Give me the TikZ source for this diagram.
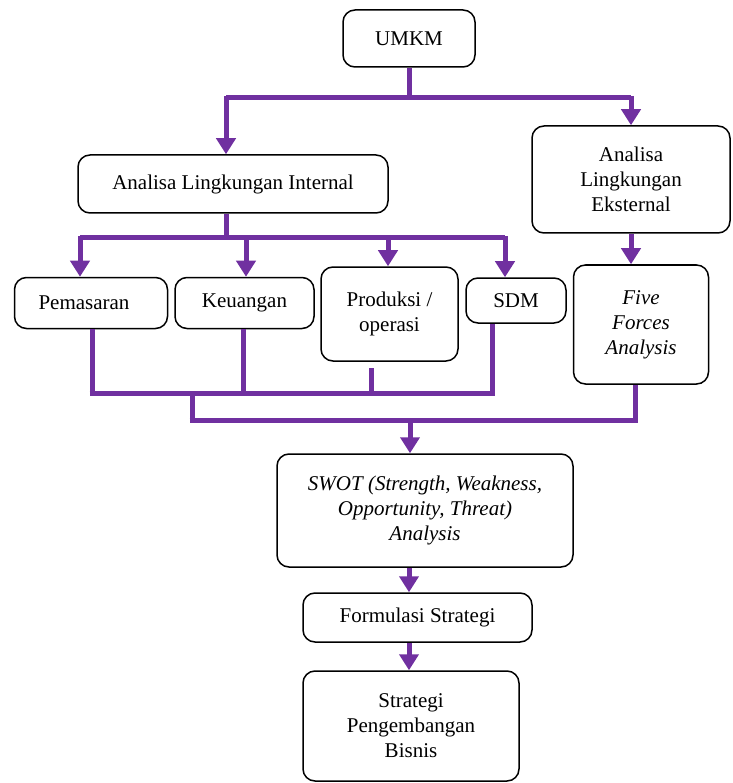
\documentclass[tikz,border=0pt]{standalone}
\usepackage{fontspec}
\setmainfont{Liberation Serif}
\usetikzlibrary{arrows.meta}
\definecolor{purp}{HTML}{7030A0}
\begin{document}
\begin{tikzpicture}[x=1pt,y=-1pt,
  box/.style={draw=black,line width=1.5pt,rounded corners=12pt,align=center,
    inner sep=0pt,font=\fontsize{21}{25}\selectfont},
  conn/.style={draw=purp,line width=5pt},
  arr/.style={conn,-{Triangle[width=19pt,length=16pt]}}]
\useasboundingbox (0,0) rectangle (732,783);
% nodes
\node[box,minimum width=132pt,minimum height=57pt] (umkm) at (409,38.5) {UMKM};
\node[box,minimum width=310pt,minimum height=58pt] (int) at (233,184) {Analisa Lingkungan Internal};
\node[box,minimum width=198pt,minimum height=107pt] (ext) at (631,179.5) {Analisa\\Lingkungan\\Eksternal};
\node[box,minimum width=153pt,minimum height=51pt] (pem) at (91,303) {\hspace*{-14pt}Pemasaran};
\node[box,minimum width=139pt,minimum height=51pt] (keu) at (244.5,303) {Keuangan};
\node[box,minimum width=137pt,minimum height=94pt] (prod) at (389.5,314) {Produksi /\\operasi};
\node[box,minimum width=100pt,minimum height=45pt] (sdm) at (516,300.5) {SDM};
\node[box,minimum width=135pt,minimum height=119pt] (five) at (641,324.5) {\itshape Five\\\itshape Forces\\\itshape Analysis};
\node[box,minimum width=296pt,minimum height=113pt] (swot) at (425,510.5) {\itshape SWOT (Strength, Weakness,\\\itshape Opportunity, Threat)\\\itshape Analysis};
\node[box,minimum width=229pt,minimum height=49pt] (form) at (417.5,617.5) {Formulasi Strategi};
\node[box,minimum width=216pt,minimum height=110pt] (strat) at (411,726) {Strategi\\Pengembangan\\Bisnis};
% junction coordinates
\coordinate (j1) at (409,98);
\coordinate (j2) at (226,238);
\coordinate (j3) at (192,393);
\coordinate (j4) at (410,420);
% top split
\draw[conn] (umkm.south -| j1) -- (j1);
\draw[conn] (226,98) -- (631,98);
\draw[arr] (226,96) -- (226,0 |- int.north);
\draw[arr] (631,96) -- (631,0 |- ext.north);
% internal split
\draw[conn] (226,0 |- int.south) -- (j2);
\draw[conn] (80,238) -- (505,238);
\draw[arr] (80,236) -- (80,0 |- pem.north);
\draw[arr] (246,236) -- (246,0 |- keu.north);
\draw[arr] (388,236) -- (388,0 |- prod.north);
\draw[arr] (505,236) -- (505,0 |- sdm.north);
% external to five forces
\draw[arr] (ext.south -| 631,0) -- (631,0 |- five.north);
% merge internal
\draw[conn] (92,0 |- pem.south) -- (92,393);
\draw[conn] (243,0 |- keu.south) -- (243,393);
\draw[conn] (371,368) -- (371,393);
\draw[conn] (492,0 |- sdm.south) -- (492,393);
\draw[conn] (89.5,393) -- (494.5,393);
% merge all
\draw[conn] (j3) -- (192,420);
\draw[conn] (189.5,420) -- (637.5,420);
\draw[conn] (635,0 |- five.south) -- (635,420);
\draw[arr] (j4) -- (410,0 |- swot.north);
% bottom chain
\draw[arr] (409,0 |- swot.south) -- (409,0 |- form.north);
\draw[arr] (409,0 |- form.south) -- (409,0 |- strat.north);
\end{tikzpicture}
\end{document}
